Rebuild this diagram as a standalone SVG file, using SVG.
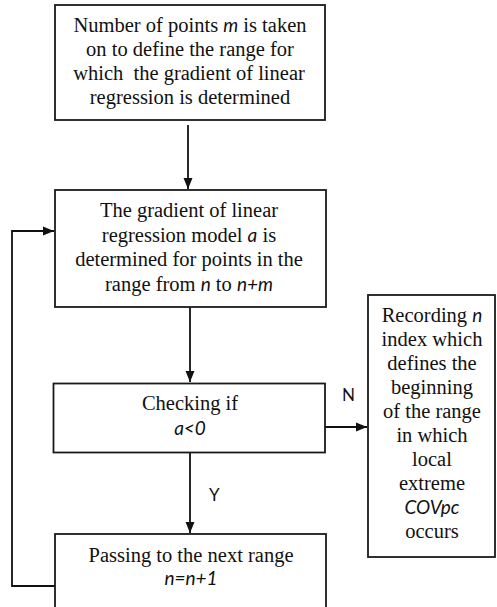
<svg xmlns="http://www.w3.org/2000/svg" width="497" height="607" viewBox="0 0 497 607">
<style>
.box{fill:#fff;stroke:#1a1a1a;stroke-width:1.8}
.t{font-family:"Liberation Serif","Times New Roman",serif;font-size:20.5px;fill:#111;text-anchor:middle}
.i{font-family:Lato,"Liberation Sans",sans-serif;font-style:italic;font-size:19px}
.lbl{font-family:Lato,"Liberation Sans",sans-serif;font-size:17px;fill:#111}
.c{fill:none;stroke:#111;stroke-width:1.8}
</style>
<defs>
<marker id="ah" markerUnits="userSpaceOnUse" markerWidth="12" markerHeight="12" viewBox="0 0 12 12" refX="11" refY="6" orient="auto">
<path d="M0,1.5 L11,6 L0,10.5 Z" fill="#111"/>
</marker>
</defs>
<rect width="497" height="607" fill="#fff"/>
<g id="connectors">
<line class="c" x1="188" y1="125" x2="188" y2="189" marker-end="url(#ah)"/>
<line class="c" x1="190" y1="307" x2="190" y2="382" marker-end="url(#ah)"/>
<line class="c" x1="325" y1="427" x2="367" y2="427" marker-end="url(#ah)"/>
<line class="c" x1="190" y1="453" x2="190" y2="533" marker-end="url(#ah)"/>
<polyline class="c" points="55,586 12,586 12,231 54,231" marker-end="url(#ah)"/>
<text class="lbl" x="342" y="401">N</text>
<text class="lbl" x="209" y="501">Y</text>
</g>
<g id="node1">
<rect class="box" x="55" y="5" width="270" height="115"/>
<text class="t" x="190" y="31.5">Number of points <tspan class="i">m</tspan> is taken</text>
<text class="t" x="190" y="55.5">on to define the range for</text>
<text class="t" x="189" y="79.5">which &#160;the gradient of linear</text>
<text class="t" x="190" y="103.5">regression is determined</text>
</g>
<g id="node2">
<rect class="box" x="55" y="190" width="271" height="117"/>
<text class="t" x="189" y="217">The gradient of linear</text>
<text class="t" x="189" y="241.5">regression model <tspan class="i">a</tspan> is</text>
<text class="t" x="189" y="266">determined for points in the</text>
<text class="t" x="189" y="290.5">range from <tspan class="i">n</tspan> to <tspan class="i">n+m</tspan></text>
</g>
<g id="node3">
<rect class="box" x="53.5" y="383.5" width="271.5" height="69"/>
<text class="t" x="190" y="410">Checking if</text>
<text class="t" x="190" y="435"><tspan class="i">a&lt;0</tspan></text>
</g>
<g id="node4">
<rect class="box" x="368" y="295" width="127" height="262"/>
<text class="t" x="432" y="321.5">Recording <tspan class="i">n</tspan></text>
<text class="t" x="432" y="345.5">index which</text>
<text class="t" x="432" y="369.5">defines the</text>
<text class="t" x="432" y="393.5">beginning</text>
<text class="t" x="432" y="417.5">of the range</text>
<text class="t" x="432" y="441.5">in which</text>
<text class="t" x="432" y="465.5">local</text>
<text class="t" x="432" y="489.5">extreme</text>
<text class="t" x="432" y="513.5"><tspan class="i">COVpc</tspan></text>
<text class="t" x="432" y="537.5">occurs</text>
</g>
<g id="node5">
<rect class="box" x="55" y="534" width="271" height="90"/>
<text class="t" x="191" y="561.5">Passing to the next range</text>
<text class="t" x="191" y="585"><tspan class="i">n=n+1</tspan></text>
</g>
</svg>
